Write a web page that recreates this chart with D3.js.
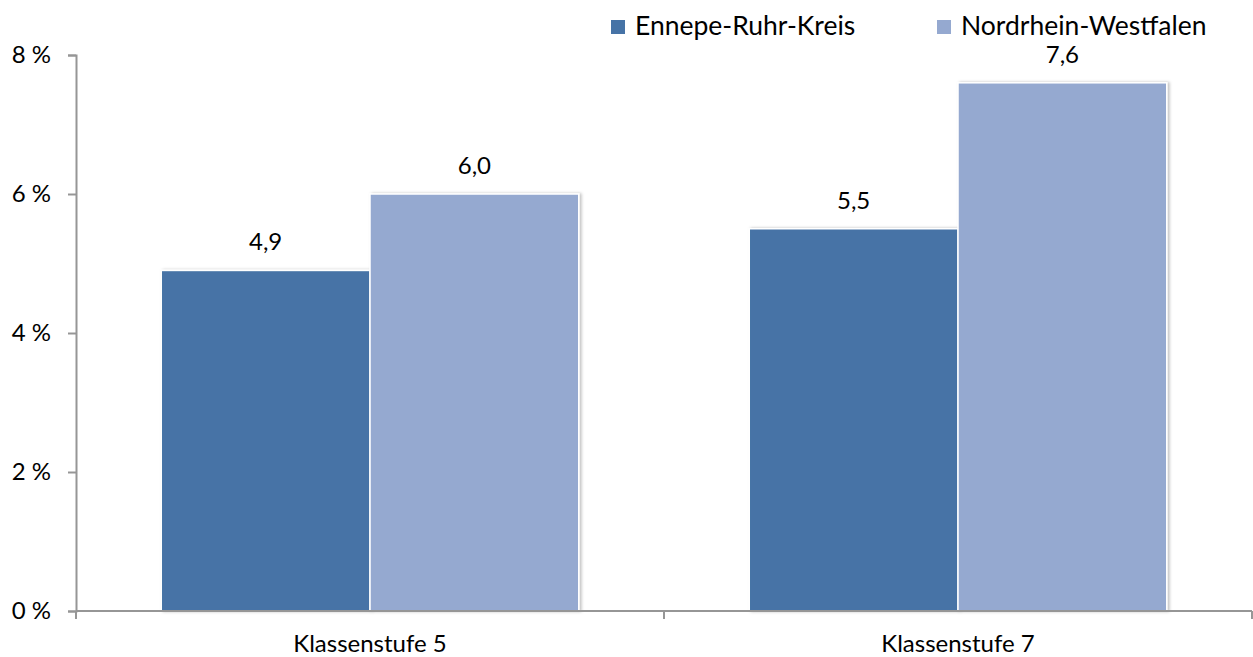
<!DOCTYPE html>
<html>
<head>
<meta charset="utf-8">
<script src="https://cdn.jsdelivr.net/npm/d3@7"></script>
<style>
  body { margin: 0; background: #fff; }
  svg { font-family: Lato, "Open Sans", sans-serif; }
</style>
</head>
<body>
<div id="chart"></div>
<script>
var categories = ["Klassenstufe 5", "Klassenstufe 7"];
var seriesNames = ["Ennepe-Ruhr-Kreis", "Nordrhein-Westfalen"];
var ennepeValues = [4.9, 5.5];
var nrwValues = [6.0, 7.6];
var yTicks = [0, 2, 4, 6, 8];

var chart_width = 1253, chart_height = 657;
var colors = ["#4673a6", "#95a9d0"];

var svg = d3.select("#chart").append("svg")
    .attr("width", chart_width)
    .attr("height", chart_height);

var defs = svg.append("defs");
var f = defs.append("filter").attr("id", "shadow")
    .attr("x", "-5%").attr("y", "-5%").attr("width", "115%").attr("height", "115%");
f.append("feDropShadow").attr("dx", 2).attr("dy", 0).attr("stdDeviation", 1.5)
    .attr("flood-color", "#000").attr("flood-opacity", 0.25);

var x0 = d3.scaleBand().domain(categories).range([76, 1252]).padding(0);
var inner = x0.bandwidth() * 0.145;
var x1 = d3.scaleBand().domain(seriesNames).range([inner, x0.bandwidth() - inner]).padding(0);
var y = d3.scaleLinear().domain([0, 8]).range([611, 55]);

var rows = categories.map(function(c, i) {
  return { cat: c, vals: [ennepeValues[i], nrwValues[i]] };
});

// y axis
var yAxis = svg.append("g").attr("transform", "translate(76,0)")
    .call(d3.axisLeft(y).tickValues(yTicks).tickSize(8).tickPadding(17)
      .tickFormat(function(d) { return d + " %"; }));
yAxis.select(".domain").attr("stroke", "#969696").attr("stroke-width", 2);
yAxis.selectAll(".tick line").attr("stroke", "#969696").attr("stroke-width", 2);
yAxis.selectAll(".tick text").attr("font-size", 24).attr("fill", "#000")
    .attr("font-family", "Lato, 'Open Sans', sans-serif");

// bars
var groups = svg.append("g").selectAll("g")
    .data(rows).enter().append("g")
    .attr("transform", function(d) { return "translate(" + x0(d.cat) + ",0)"; });

groups.selectAll("rect")
    .data(function(d) { return d.vals.map(function(v, j) { return { name: seriesNames[j], value: v, j: j }; }); })
    .enter().append("rect")
    .attr("x", function(d) { return x1(d.name); })
    .attr("y", function(d) { return y(d.value); })
    .attr("width", x1.bandwidth())
    .attr("height", function(d) { return y(0) - y(d.value); })
    .attr("fill", function(d) { return colors[d.j]; })
    .attr("stroke", "#fff")
    .attr("stroke-width", 1.5)
    .attr("filter", "url(#shadow)");

groups.selectAll("text.val")
    .data(function(d) { return d.vals.map(function(v, j) { return { name: seriesNames[j], value: v }; }); })
    .enter().append("text")
    .attr("class", "val")
    .attr("x", function(d) { return x1(d.name) + x1.bandwidth() / 2; })
    .attr("y", function(d) { return y(d.value) - 20; })
    .attr("text-anchor", "middle")
    .attr("font-size", 24)
    .text(function(d) { return d3.format(".1f")(d.value).replace(".", ","); });

// x axis
var xAxis = svg.append("g").attr("transform", "translate(0,611)");
xAxis.append("line").attr("x1", 76).attr("x2", 1252).attr("stroke", "#969696").attr("stroke-width", 2);
var bounds = categories.map(function(c) { return x0(c); }).concat([x0(categories[categories.length - 1]) + x0.bandwidth()]);
xAxis.selectAll("line.tk").data(bounds).enter().append("line")
    .attr("class", "tk")
    .attr("x1", function(d) { return d; }).attr("x2", function(d) { return d; })
    .attr("y1", 0).attr("y2", 8)
    .attr("stroke", "#969696").attr("stroke-width", 2);
xAxis.selectAll("text").data(categories).enter().append("text")
    .attr("x", function(d) { return x0(d) + x0.bandwidth() / 2; })
    .attr("y", 41)
    .attr("text-anchor", "middle")
    .attr("font-size", 24)
    .text(function(d) { return d; });

// legend
var legendX = [611, 937];
var legend = svg.append("g");
seriesNames.forEach(function(n, i) {
  legend.append("rect").attr("x", legendX[i]).attr("y", 20).attr("width", 14).attr("height", 14)
      .attr("fill", colors[i]);
  legend.append("text").attr("x", legendX[i] + 24).attr("y", 35)
      .attr("font-size", 26.5).text(n);
});
</script>
</body>
</html>
